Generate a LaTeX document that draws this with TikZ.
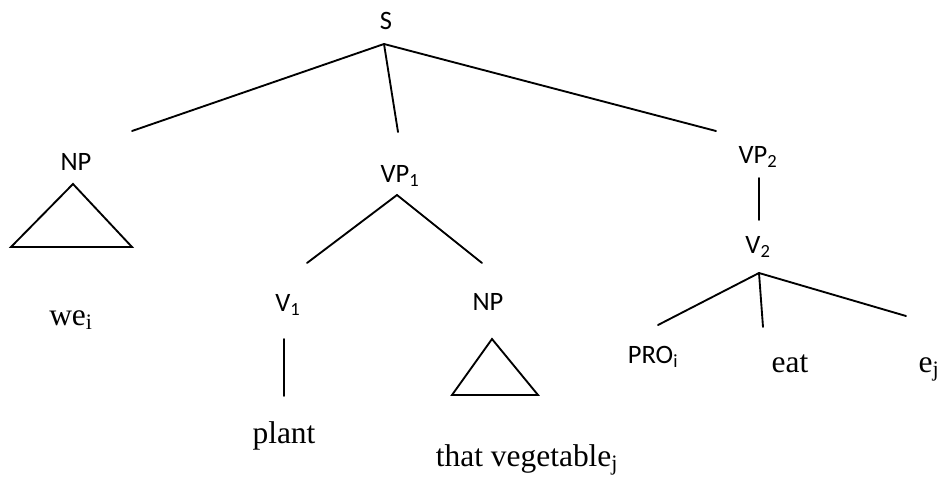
\documentclass[tikz,border=0pt]{standalone}
\usepackage{fontspec}
\setmainfont{Liberation Serif}
\newfontfamily\catfont{Carlito}
\usepackage{tikz}

\begin{document}
\begin{tikzpicture}[x=0.75pt,y=-0.75pt,
  cat/.style={anchor=base,inner sep=0pt,font=\catfont\fontsize{19.9}{24}\selectfont},
  word/.style={anchor=base,inner sep=0pt,font=\fontsize{23.6}{28}\selectfont},
  branch/.style={line width=1.4pt,line cap=round,line join=miter}]
\path[use as bounding box] (0,0) rectangle (944,478);
% categories
\node[cat] (S) at (386,30) {S};
\node[cat] (NPa) at (76,170) {NP};
\node[cat] (VPa) at (400,182) {VP\textsubscript{1}};
\node[cat] (VPb) at (758,163) {VP\textsubscript{2}};
\node[cat] (Va) at (288,311) {V\textsubscript{1}};
\node[cat] (NPb) at (488,310) {NP};
\node[cat] (Vb) at (758,253) {V\textsubscript{2}};
\node[cat] (PRO) at (653,363) {PRO\textsubscript{i}};
% words
\node[word] (we) at (71,325) {we\textsubscript{i}};
\node[word] (plant) at (284,443) {plant};
\node[word] (veg) at (527,466) {that vegetable\textsubscript{j}};
\node[word] (eat) at (790,372) {eat};
\node[word] (ej) at (929,372) {e\textsubscript{j}};
% branch points
\coordinate (S-fork) at (384,44);
\coordinate (NPa-top) at (132,131);
\coordinate (VPa-top) at (398,132);
\coordinate (VPb-top) at (716,131);
\coordinate (VPa-fork) at (397,195);
\coordinate (Va-top) at (307,263);
\coordinate (NPb-top) at (482,263);
\coordinate (VPb-foot) at (759,178);
\coordinate (Vb-top) at (759,220);
\coordinate (Vb-fork) at (759,273);
\coordinate (PRO-top) at (658,325);
\coordinate (eat-top) at (763,327);
\coordinate (ej-top) at (906,316);
\coordinate (Va-foot) at (284,339);
\coordinate (plant-top) at (284,396);
\draw[branch] (NPa-top) -- (S-fork) -- (VPb-top);
\draw[branch] (S-fork) -- (VPa-top);
\draw[branch] (Va-top) -- (VPa-fork) -- (NPb-top);
\draw[branch] (VPb-foot) -- (Vb-top);
\draw[branch] (PRO-top) -- (Vb-fork) -- (ej-top);
\draw[branch] (Vb-fork) -- (eat-top);
\draw[branch] (Va-foot) -- (plant-top);
% roofs
\draw[branch] (73,184) -- (132,247) -- (11,247) -- cycle;
\draw[branch] (492,339) -- (538,395) -- (452,395) -- cycle;
\end{tikzpicture}
\end{document}
